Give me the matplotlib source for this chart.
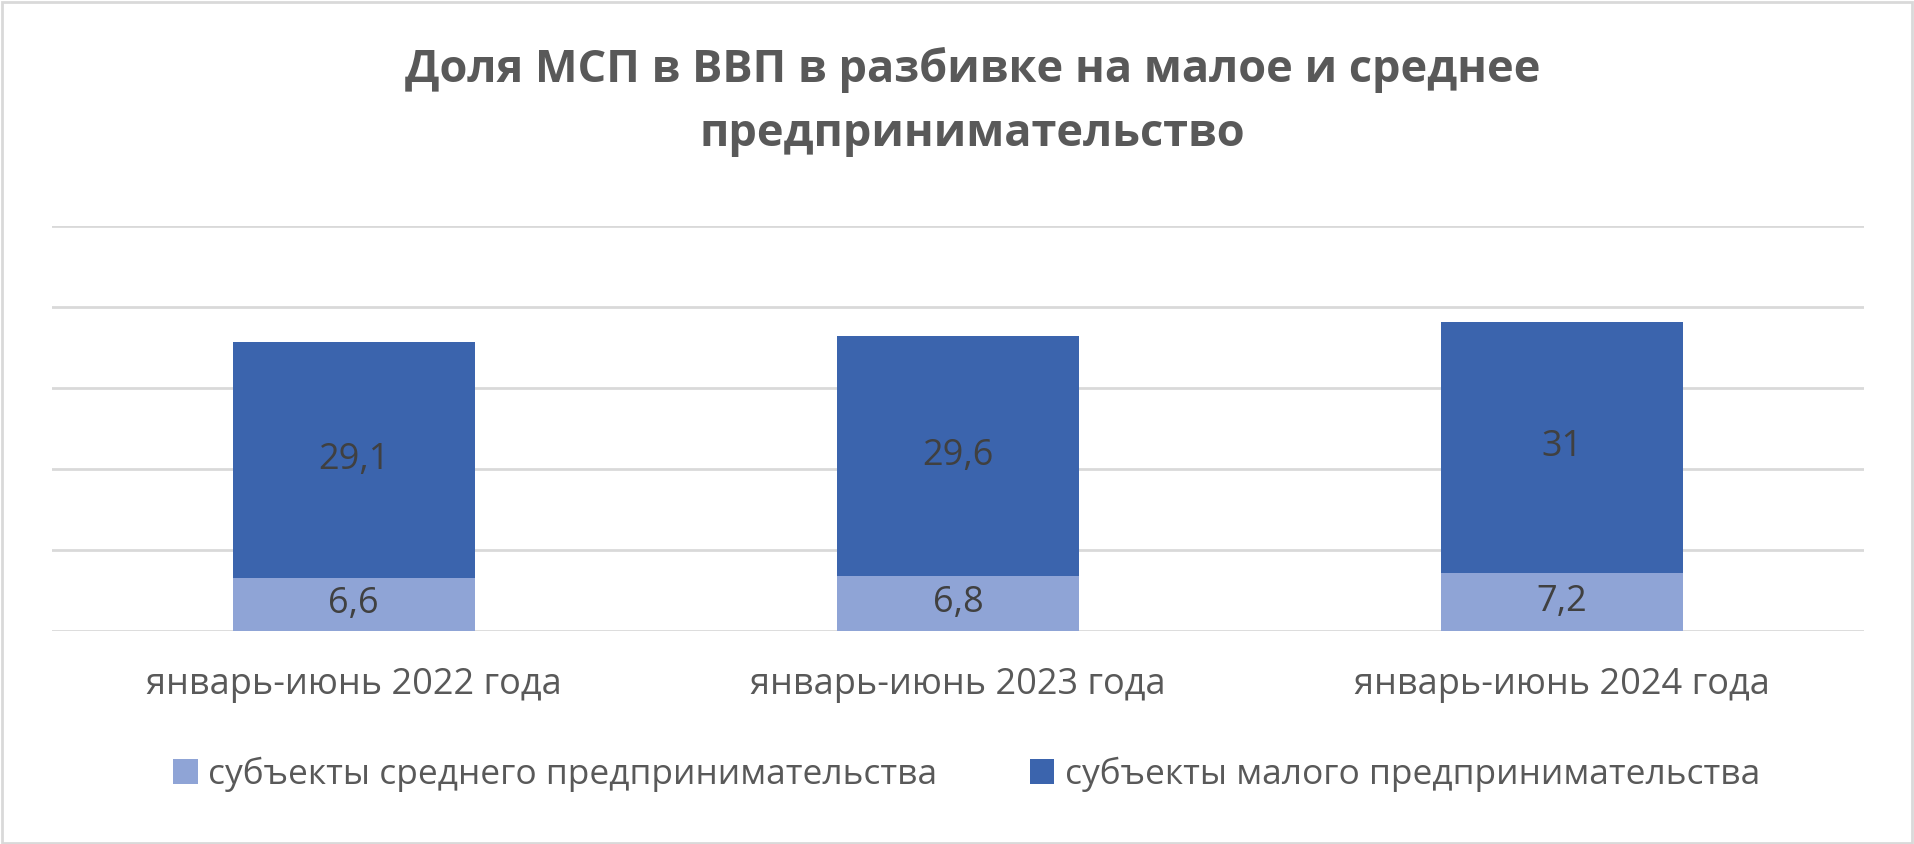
import numpy as np
import matplotlib.pyplot as plt
from matplotlib.patches import Rectangle

plt.rcParams['font.family'] = ['Open Sans', 'DejaVu Sans']

categories = ['январь-июнь 2022 года', 'январь-июнь 2023 года', 'январь-июнь 2024 года']
medium = [6.6, 6.8, 7.2]
small = [29.1, 29.6, 31]
medium_labels = ['6,6', '6,8', '7,2']
small_labels = ['29,1', '29,6', '31']

c_medium = '#8FA4D6'
c_small = '#3B64AD'

fig = plt.figure(figsize=(19.14, 8.44), dpi=100)
fig.patches.append(Rectangle((0.001, 0.001), 0.998, 0.997, transform=fig.transFigure,
                             fill=False, edgecolor='#D9D9D9', linewidth=2))
ax = fig.add_axes([0.027, 0.2524, 0.947, 0.4798])

x = np.arange(len(categories))
b1 = ax.bar(x, medium, width=0.4, color=c_medium, zorder=3, label='субъекты среднего предпринимательства')
b2 = ax.bar(x, small, width=0.4, bottom=medium, color=c_small, zorder=3, label='субъекты малого предпринимательства')

for i in range(len(x)):
    ax.text(x[i], medium[i] / 2, medium_labels[i], ha='center', va='center',
            fontsize=26, color='#404040', zorder=4)
    ax.text(x[i], medium[i] + small[i] / 2, small_labels[i], ha='center', va='center',
            fontsize=26, color='#404040', zorder=4)

ax.set_xlim(-0.5, 2.5)
ax.set_ylim(0, 50)
ax.set_yticks(np.arange(0, 51, 10))
ax.yaxis.grid(True, color='#D9D9D9', linewidth=2)
ax.set_yticklabels([])
ax.tick_params(axis='y', length=0)
ax.tick_params(axis='x', length=0, pad=26, labelsize=26, labelcolor='#595959')
ax.set_xticks(x)
ax.set_xticklabels(categories)
for s in ['top', 'right', 'left', 'bottom']:
    ax.spines[s].set_visible(False)

fig.text(0.508, 0.879, 'Доля МСП в ВВП в разбивке на малое и среднее\nпредпринимательство',
         ha='center', va='center', fontsize=32.5, fontweight='bold', color='#595959',
         linespacing=1.55)

leg = fig.legend(handles=[b1, b2], loc='center', bbox_to_anchor=(0.505, 0.083), ncol=2,
                 frameon=False, fontsize=25.5, handlelength=0.7, handleheight=0.7,
                 handletextpad=0.3, columnspacing=2.6, labelcolor='#595959')

fig.savefig('out.png', dpi=100)
